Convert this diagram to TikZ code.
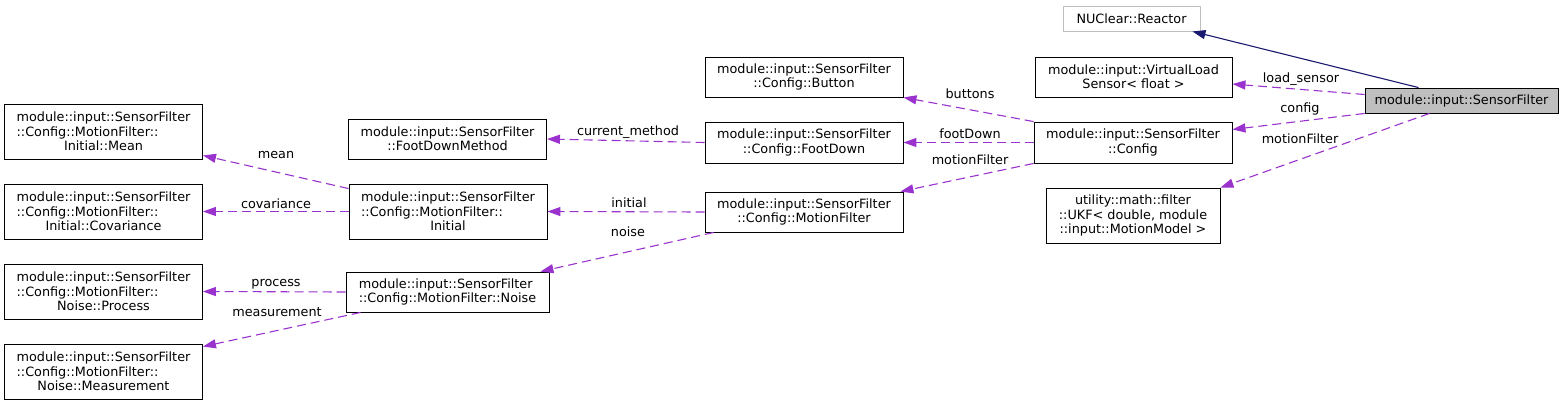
\documentclass[tikz,border=0pt]{standalone}
\usepackage{fontspec}
\usepackage{xcolor}
\usepackage{tikz}
\usetikzlibrary{arrows.meta, positioning, calc}
\newfontfamily\dxfont{DejaVu Sans}
\definecolor{ungu}{HTML}{9A32CD}
\definecolor{biru}{HTML}{191970}
\newlength{\lebar}
\AtBeginDocument{\settowidth{\lebar}{\dxfont\fontsize{12.8}{14.3}\selectfont module::input::SensorFilter}}
\newcommand{\tengah}[1]{\makebox[\lebar]{#1}}

\begin{document}
\begin{tikzpicture}[
    x=1pt, y=-1pt,
    font=\dxfont\fontsize{12.8}{14.3}\selectfont,
    kotak/.style={draw=black, fill=white, line width=0.9pt, align=center, inner sep=1pt},
    kiri/.style={kotak, align=left, minimum width=198, minimum height=55},
    dua/.style={kotak, minimum width=198, minimum height=40},
    utama/.style={kotak, fill=black!25, minimum width=193, minimum height=25},
    luar/.style={kotak, draw=black!25, minimum width=137, minimum height=25},
    relasi/.style={draw=ungu, line width=1.1pt, dash pattern=on 9pt off 5pt,
                   -{Triangle[length=13pt, width=9pt]}},
    warisan/.style={draw=biru, line width=1.1pt, -{Triangle[length=13pt, width=9pt]}},
    lbl/.style={inner sep=0pt}
  ]
    \useasboundingbox (0,0) rectangle (1567,405);
    % kolom kanan
    \node[luar] (reactor) at (1131.5,18.5) {NUClear::Reactor};
    \node[dua, minimum width=197] (vls) at (1133.5,77) {module::input::VirtualLoad\\Sensor< float >};
    \node[utama] (filter) at (1461.5,100.5) {module::input::SensorFilter};
    \node[dua, minimum height=41] (config) at (1133,142.5) {module::input::SensorFilter\\::Config};
    \node[kotak, minimum width=174, minimum height=55] (ukf) at (1133,215.5)
      {utility::math::filter\\::UKF< double, module\\::input::MotionModel >};
    % kolom tengah
    \node[dua] (button) at (804,77) {module::input::SensorFilter\\::Config::Button};
    \node[dua, minimum height=41] (footdown) at (804,142.5) {module::input::SensorFilter\\::Config::FootDown};
    \node[dua] (mf) at (804,212) {module::input::SensorFilter\\::Config::MotionFilter};
    \node[dua] (fdm) at (447.5,139) {module::input::SensorFilter\\::FootDownMethod};
    \node[kiri] (initial) at (448,211.5)
      {module::input::SensorFilter\\::Config::MotionFilter::\\\tengah{Initial}};
    \node[kotak, align=left, minimum width=203, minimum height=40] (noise) at (447.5,292)
      {module::input::SensorFilter\\::Config::MotionFilter::Noise};
    % kolom kiri
    \node[kiri] (mean) at (103.5,131.5)
      {module::input::SensorFilter\\::Config::MotionFilter::\\\tengah{Initial::Mean}};
    \node[kiri] (cov) at (103.5,211.5)
      {module::input::SensorFilter\\::Config::MotionFilter::\\\tengah{Initial::Covariance}};
    \node[kiri] (process) at (103.5,291.5)
      {module::input::SensorFilter\\::Config::MotionFilter::\\\tengah{Noise::Process}};
    \node[kiri] (meas) at (103.5,371.5)
      {module::input::SensorFilter\\::Config::MotionFilter::\\\tengah{Noise::Measurement}};
    % relasi
    \draw[warisan] ([xshift=-43]filter.north) -- ([xshift=-8]reactor.south east);
    \draw[relasi] ([yshift=6]filter.west) -- ([yshift=-7]vls.east);
    \draw[relasi] (filter.south west) -- ([yshift=13]config.east);
    \draw[relasi] ([xshift=-32]filter.south) -- (ukf.north east);
    \draw[relasi] (config.north west) -- (button.south east);
    \draw[relasi] (config.west) -- (footdown.east);
    \draw[relasi] (config.south west) -- ([xshift=-3]mf.north east);
    \draw[relasi] (footdown.west) -- (fdm.east);
    \draw[relasi] (mf.west) -- (initial.east);
    \draw[relasi] ([xshift=9]mf.south west) -- ([xshift=-9]noise.north east);
    \draw[relasi] ([yshift=-5]initial.north west) -- ([yshift=4]mean.south east);
    \draw[relasi] (initial.west) -- (cov.east);
    \draw[relasi] (noise.west) -- (process.east);
    \draw[relasi] ([xshift=15]noise.south west) -- ([yshift=-3]meas.north east);
    % label
    \node[lbl] (l-load) at (1301,79) {load\_sensor};
    \node[lbl] (l-config) at (1300,109) {config};
    \node[lbl] (l-ukf) at (1300,139) {motionFilter};
    \node[lbl] (l-button) at (970,94) {buttons};
    \node[lbl] (l-foot) at (970,134) {footDown};
    \node[lbl] (l-mf) at (970,160) {motionFilter};
    \node[lbl] (l-method) at (628,132) {current\_method};
    \node[lbl] (l-initial) at (629,203) {initial};
    \node[lbl] (l-noise) at (628,232) {noise};
    \node[lbl] (l-mean) at (276,155) {mean};
    \node[lbl] (l-cov) at (276,204) {covariance};
    \node[lbl] (l-process) at (276,284) {process};
    \node[lbl] (l-meas) at (277,312) {measurement};
  \end{tikzpicture}
\end{document}
